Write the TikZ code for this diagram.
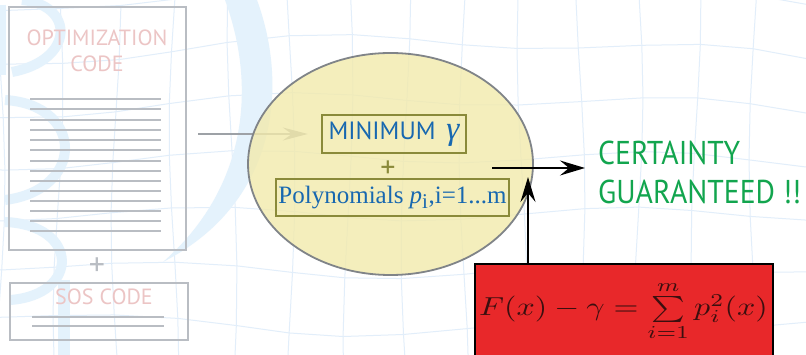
\documentclass[tikz,border=0pt]{standalone}
\usepackage{fontspec}
\setmainfont{Liberation Serif}
\setsansfont{PT Sans}
\newfontfamily\narrowsans[FakeStretch=0.9]{PT Sans}
\usepackage{amsmath}
\usetikzlibrary{arrows.meta,shapes.geometric}
\definecolor{boxgray}{HTML}{B9BDC3}
\definecolor{pinktext}{HTML}{ECC5C5}
\definecolor{ellfill}{HTML}{F2EAAC}
\definecolor{ellline}{HTML}{808488}
\definecolor{olive}{HTML}{8A8A3A}
\definecolor{bluetext}{HTML}{1868B0}
\definecolor{greentext}{HTML}{12A54E}
\definecolor{redfill}{HTML}{E8282A}
\definecolor{formcol}{HTML}{3B0F0F}
\definecolor{meshcol}{HTML}{E2EEFA}
\definecolor{bgblue}{HTML}{E4F2FC}
\tikzset{
  codebox/.style={draw=boxgray, line width=2.2, inner sep=0, anchor=north west},
  codeline/.style={draw=boxgray, line width=2},
  pinklabel/.style={text=pinktext, font=\sffamily\fontsize{22}{26}\selectfont, align=center, inner sep=0},
  meshline/.style={draw=meshcol, line width=1},
  olivebox/.style={draw=olive, line width=2.2, inner sep=0, text=bluetext},
  arrowtip/.style={-{Stealth[length=25,width=15,inset=9]}},
}
\begin{document}
\begin{tikzpicture}[x=1pt,y=-1pt]
\useasboundingbox (0,0) rectangle (806,355);
\fill[white] (0,0) rectangle (806,355);
% background mesh
\begin{scope}
\clip (0,0) rectangle (806,355);
\foreach \j in {-1,...,7} {
  \draw[meshline] plot[domain=-1:15, samples=17] ({\x*58+5*sin(\x*70+\j*40)}, {\j*58+40+7*sin(\x*50+\j*30)-0.00004*(\x*58-420)*(\x*58-420)*(\j-3)});
}
\foreach \i in {-1,...,15} {
  \draw[meshline] plot[domain=-1:8, samples=10] ({\i*58+5*sin(\i*70+\x*40)}, {\x*58+40+7*sin(\i*50+\x*30)-0.00004*(\i*58-420)*(\i*58-420)*(\x-3)});
}
% crescent
\fill[bgblue] (225,0) .. controls (258,90) and (245,190) .. (163,262) .. controls (275,205) and (290,90) .. (257,0) -- cycle;
% watermark strokes at left
\draw[bgblue, line width=11] (0,5) -- (0,75);
\draw[bgblue, line width=10] (22,0) .. controls (75,5) and (75,60) .. (12,72);
\draw[bgblue, line width=10] (5,100) .. controls (85,105) and (85,190) .. (5,200);
\draw[bgblue, line width=10] (5,222) .. controls (80,225) and (80,295) .. (10,300);
\draw[bgblue, line width=12] (64,280) -- (64,355);
\end{scope}
% optimization code
\node[codebox, minimum width=177, minimum height=243] (opt) at (8,6) {};
\node[pinklabel] (optt) at (97,51) {OPTIMIZATION\\CODE};
\foreach \y in {99,108.7,120,130,140,149.7,160.7,170.7,180.7,190.7,201.3,211.3,221,230.7}
  \draw[codeline] (30,\y) -- (161,\y);
\node[text=boxgray, inner sep=0, font=\sffamily\fontsize{32}{32}\selectfont] (plus1) at (97,267) {+};
\node[codebox, minimum width=178, minimum height=57] (sos) at (9,282) {};
\node[pinklabel] (sost) at (104,297) {SOS CODE};
\draw[codeline] (32,317) -- (164,317);
\draw[codeline] (32,326) -- (164,326);
% gray arrow (behind ellipse)
\coordinate (ga) at (198,134);
\node[minimum width=144, minimum height=38, inner sep=0] (minpos) at (394,134) {};
\draw[draw=boxgray!85!black, line width=1.5, -{Stealth[length=25,width=13,inset=9]}] (ga) -- ([xshift=-14]minpos.west);
% ellipse
\node[ellipse, draw=ellline, line width=1.8, fill=ellfill, fill opacity=0.8, minimum width=285, minimum height=222, inner sep=0] (ell) at (390.5,164) {};
\node[olivebox, minimum width=144, minimum height=38] (min) at (394,134) {\sffamily\fontsize{25}{25}\selectfont MINIMUM\, {\rmfamily\itshape\fontsize{33}{33}\selectfont γ}};
\node[text=olive, inner sep=0, font=\sffamily\fontsize{30}{30}\selectfont] (plus2) at (388,169) {+};
\node[olivebox, minimum width=233, minimum height=37] (poly) at (392.5,197.5) {\fontsize{25}{25}\selectfont Polynomials \textit{p}\textsubscript{\fontsize{21}{21}\selectfont i},i=1...m};
% certainty
\node[text=greentext, font=\narrowsans\fontsize{33}{39}\selectfont, align=left, inner sep=0, anchor=west] (cert) at (598,172.5) {CERTAINTY\\GUARANTEED !!};
\coordinate (bs) at (492,168);
\draw[line width=2, arrowtip] (bs) -- ([xshift=-13]cert.west |- bs);
% red box
\node[draw=black, line width=2, fill=redfill, minimum width=298, minimum height=100, anchor=north west, inner sep=0] (red) at (474,263) {};
\node[text=formcol, inner sep=0] (form) at (623.5,311) {\scalebox{3.2}[2.6]{$\textstyle F(x)-\gamma=\sum\limits_{i=1}^{m}p_i^2(x)$}};
\coordinate (vt) at (528,177);
\draw[line width=2, arrowtip] (red.north -| vt) -- (vt);
\end{tikzpicture}
\end{document}
